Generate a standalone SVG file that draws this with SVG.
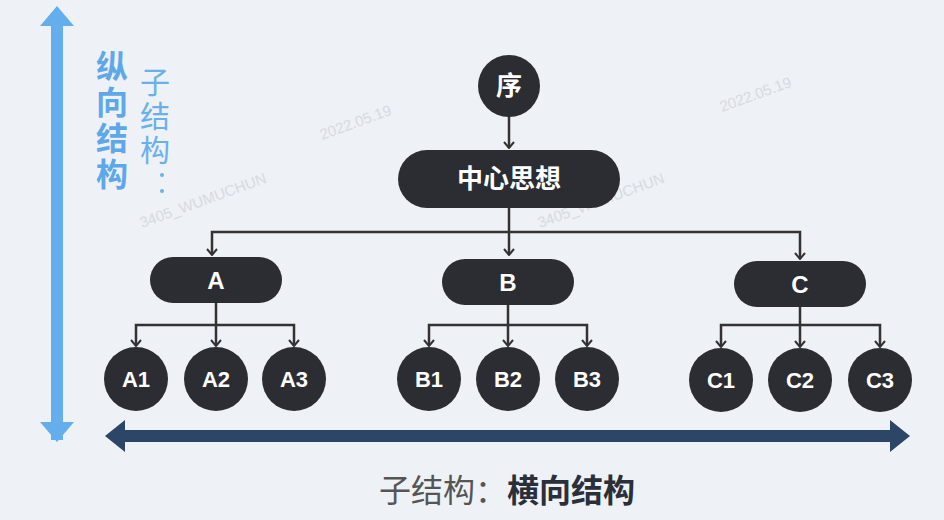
<svg xmlns="http://www.w3.org/2000/svg" width="944" height="520" viewBox="0 0 944 520">
<defs>
<marker id="ah" viewBox="0 0 12 12" refX="11" refY="6" markerWidth="12" markerHeight="12" markerUnits="userSpaceOnUse" orient="auto-start-reverse">
<path d="M5 1 L11 6 L5 11" fill="none" stroke="#333" stroke-width="2"/>
</marker>
</defs>
<style>
.n{fill:#2b2d33}
.t{fill:#fff;font-family:"Liberation Sans","Noto Sans CJK SC",sans-serif;font-weight:bold;text-anchor:middle;dominant-baseline:central}
.c{fill:none;stroke:#333;stroke-width:2.5}
.w{fill:#c9ccd2;font-family:"Liberation Sans",sans-serif;font-size:15px;opacity:.6}
.v{text-anchor:middle;dominant-baseline:central}
</style>
<rect width="944" height="520" fill="#eef1f6"/>
<g id="watermarks">
<text class="w" transform="translate(142,228) rotate(-20)">3405_WUMUCHUN</text>
<text class="w" transform="translate(540,228) rotate(-20)">3405_WUMUCHUN</text>
<text class="w" transform="translate(322,140) rotate(-20)">2022.05.19</text>
<text class="w" transform="translate(722,112) rotate(-20)">2022.05.19</text>
</g>
<g id="axes">
<path d="M51 440 L51 26 L40 26 L57 6 L74 26 L63 26 L63 440 Z" fill="#64aeee"/>
<path d="M40 422 L74 422 L57 442 Z" fill="#64aeee"/>
<path d="M125 430 L890 430 L890 420 L910 436 L890 452 L890 442 L125 442 L125 452 L105 436 L125 420 Z" fill="#2d4566"/>
</g>
<g id="labels" font-family="'Noto Sans CJK SC',sans-serif">
<text class="v" x="112" y="64" font-size="32" font-weight="bold" fill="#5ea8ea">纵</text>
<text class="v" x="112" y="100" font-size="32" font-weight="bold" fill="#5ea8ea">向</text>
<text class="v" x="112" y="136" font-size="32" font-weight="bold" fill="#5ea8ea">结</text>
<text class="v" x="112" y="172" font-size="32" font-weight="bold" fill="#5ea8ea">构</text>
<text class="v" x="155" y="80" font-size="30" fill="#6ab0ec">子</text>
<text class="v" x="155" y="114" font-size="30" fill="#6ab0ec">结</text>
<text class="v" x="155" y="148" font-size="30" fill="#6ab0ec">构</text>
<circle cx="162" cy="175" r="2" fill="#6ab0ec"/><circle cx="162" cy="191" r="2" fill="#6ab0ec"/>
<text x="507" y="488" font-size="32" class="v"><tspan fill="#555">子结构：</tspan><tspan fill="#2a2f3a" font-weight="bold">横向结构</tspan></text>
</g>
<g id="connectors">
<path class="c" d="M509 116 V148" marker-end="url(#ah)"/>
<path class="c" d="M509 208 V255" marker-end="url(#ah)"/>
<path class="c" d="M212 255 V232 H800 V259" marker-end="url(#ah)" marker-start="url(#ah)"/>
<path class="c" d="M216 302 V346" marker-end="url(#ah)"/>
<path class="c" d="M136 346 V325 H294 V346" marker-end="url(#ah)" marker-start="url(#ah)"/>
<path class="c" d="M508 304 V346" marker-end="url(#ah)"/>
<path class="c" d="M429 346 V325 H587 V346" marker-end="url(#ah)" marker-start="url(#ah)"/>
<path class="c" d="M800 306 V347" marker-end="url(#ah)"/>
<path class="c" d="M721 347 V325 H880 V347" marker-end="url(#ah)" marker-start="url(#ah)"/>
</g>
<g id="n-xu"><circle class="n" cx="509" cy="86" r="31"/><text class="t" x="509" y="86" font-size="26">序</text></g>
<g id="n-center"><rect class="n" x="398" y="150" width="222" height="58" rx="29"/><text class="t" x="509" y="179" font-size="26">中心思想</text></g>
<g id="n-A"><rect class="n" x="150" y="257" width="132" height="46" rx="23"/><text class="t" x="216" y="280" font-size="24">A</text></g>
<g id="n-B"><rect class="n" x="442" y="259" width="132" height="46" rx="23"/><text class="t" x="508" y="282" font-size="24">B</text></g>
<g id="n-C"><rect class="n" x="734" y="261" width="132" height="46" rx="23"/><text class="t" x="800" y="284" font-size="24">C</text></g>
<g id="n-A1"><circle class="n" cx="136" cy="379" r="32"/><text class="t" x="136" y="379" font-size="22">A1</text></g>
<g id="n-A2"><circle class="n" cx="216" cy="379" r="32"/><text class="t" x="216" y="379" font-size="22">A2</text></g>
<g id="n-A3"><circle class="n" cx="294" cy="379" r="32"/><text class="t" x="294" y="379" font-size="22">A3</text></g>
<g id="n-B1"><circle class="n" cx="429" cy="379" r="32"/><text class="t" x="429" y="379" font-size="22">B1</text></g>
<g id="n-B2"><circle class="n" cx="508" cy="379" r="32"/><text class="t" x="508" y="379" font-size="22">B2</text></g>
<g id="n-B3"><circle class="n" cx="587" cy="379" r="32"/><text class="t" x="587" y="379" font-size="22">B3</text></g>
<g id="n-C1"><circle class="n" cx="721" cy="380" r="32"/><text class="t" x="721" y="380" font-size="22">C1</text></g>
<g id="n-C2"><circle class="n" cx="800" cy="380" r="32"/><text class="t" x="800" y="380" font-size="22">C2</text></g>
<g id="n-C3"><circle class="n" cx="880" cy="380" r="32"/><text class="t" x="880" y="380" font-size="22">C3</text></g>
</svg>
